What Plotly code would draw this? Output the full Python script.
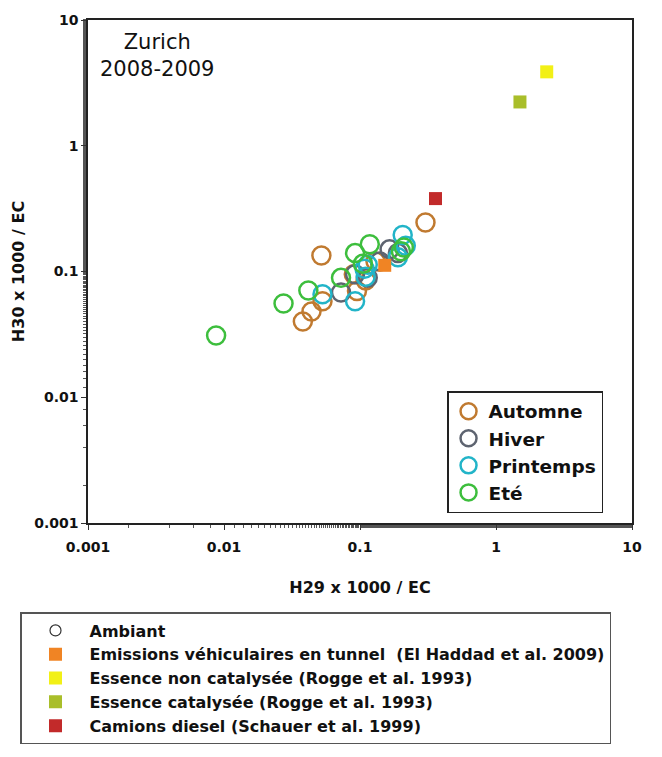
import plotly.graph_objects as go

# Seasonal ambient data (H29 x 1000 / EC, H30 x 1000 / EC)
automne_x = [0.303, 0.052, 0.038, 0.044, 0.053, 0.095, 0.11, 0.13, 0.09]
automne_y = [0.245, 0.134, 0.040, 0.048, 0.058, 0.070, 0.085, 0.12, 0.095]
hiver_x = [0.165, 0.0725, 0.092, 0.114, 0.14, 0.19]
hiver_y = [0.150, 0.068, 0.095, 0.089, 0.12, 0.14]
printemps_x = [0.206, 0.217, 0.19, 0.114, 0.11, 0.092, 0.053, 0.108]
printemps_y = [0.195, 0.160, 0.13, 0.113, 0.091, 0.058, 0.066, 0.105]
ete_x = [0.00875, 0.0274, 0.0417, 0.0725, 0.092, 0.118, 0.21, 0.20, 0.105]
ete_y = [0.031, 0.0557, 0.0707, 0.089, 0.140, 0.165, 0.155, 0.145, 0.115]

# Source profiles
tunnel_x = [0.152]; tunnel_y = [0.112]
noncat_x = [2.36]; noncat_y = [3.87]
cat_x = [1.50]; cat_y = [2.23]
diesel_x = [0.359]; diesel_y = [0.38]

tick_vals = [0.001, 0.01, 0.1, 1, 10]
tick_text = ["0.001", "0.01", "0.1", "1", "10"]

season_names = ["Automne", "Hiver", "Printemps", "Eté"]
season_colors = ["#C07A30", "#5E6470", "#22B4C8", "#3DBE3D"]
season_data = [(automne_x, automne_y), (hiver_x, hiver_y), (printemps_x, printemps_y), (ete_x, ete_y)]

source_names = ["Emissions véhiculaires en tunnel  (El Haddad et al. 2009)",
                "Essence non catalysée (Rogge et al. 1993)",
                "Essence catalysée (Rogge et al. 1993)",
                "Camions diesel (Schauer et al. 1999)"]
source_colors = ["#F08424", "#F2F016", "#A9BE2A", "#C22A2A"]
source_data = [(tunnel_x, tunnel_y), (noncat_x, noncat_y), (cat_x, cat_y), (diesel_x, diesel_y)]

FONT = "DejaVu Sans, Liberation Sans, Arial, sans-serif"

fig = go.Figure()

for name, col, (xs, ys) in zip(season_names, season_colors, season_data):
    fig.add_trace(go.Scatter(x=xs, y=ys, mode="markers", name=name, legend="legend",
                             marker=dict(symbol="circle-open", size=18, color=col,
                                         line=dict(width=2.5, color=col))))

# Ambiant legend entry
fig.add_trace(go.Scatter(x=[None], y=[None], mode="markers", name="Ambiant", legend="legend2",
                         marker=dict(symbol="circle-open", size=11, color="#333333",
                                     line=dict(width=1.2, color="#333333"))))

for name, col, (xs, ys) in zip(source_names, source_colors, source_data):
    fig.add_trace(go.Scatter(x=xs, y=ys, mode="markers", name=name, legend="legend2",
                             marker=dict(symbol="square", size=13, color=col)))

fig.add_annotation(text="Zurich<br>2008-2009", xref="paper", yref="paper", x=0.127, y=0.984,
                   xanchor="center", yanchor="top", showarrow=False,
                   font=dict(family=FONT, size=21, color="#111111"))

axis_common = dict(type="log", showgrid=False, zeroline=False, showline=True, linecolor="#222222",
                   linewidth=1.5, mirror=True, ticks="outside", ticklen=5, tickwidth=1.2,
                   tickcolor="#333333",
                   minor=dict(ticks="outside", ticklen=3, tickwidth=1, tickcolor="#555555"),
                   tickfont=dict(family=FONT, size=14, color="#111111", weight="bold"))

fig.update_layout(
    width=654, height=749,
    margin=dict(l=80, r=30, t=12, b=234, autoexpand=False),
    plot_bgcolor="white", paper_bgcolor="white",
    showlegend=True,
    xaxis=dict(range=[-3, 1], tickvals=tick_vals, ticktext=tick_text, ticklabelstandoff=5,
               title=dict(text="H29 x 1000 / EC", standoff=28,
                          font=dict(family=FONT, size=16, color="#111111", weight="bold")),
               **axis_common),
    yaxis=dict(range=[-3, 1], tickvals=tick_vals, ticktext=tick_text,
               title=dict(text="H30 x 1000 / EC", standoff=6,
                          font=dict(family=FONT, size=16, color="#111111", weight="bold")),
               **axis_common),
    legend=dict(x=0.66, y=0.262, xanchor="left", yanchor="top",
                bgcolor="white", bordercolor="#222222", borderwidth=1.5,
                font=dict(family=FONT, size=18.5, color="#111111", weight="bold"),
                itemwidth=30, tracegroupgap=0),
    legend2=dict(x=-0.125, y=-0.177, xanchor="left", yanchor="top",
                 bgcolor="white", bordercolor="#555555", borderwidth=1.5,
                 font=dict(family=FONT, size=16, color="#111111", weight="bold"),
                 itemwidth=58, tracegroupgap=0),
)

fig.write_html("out.html")
